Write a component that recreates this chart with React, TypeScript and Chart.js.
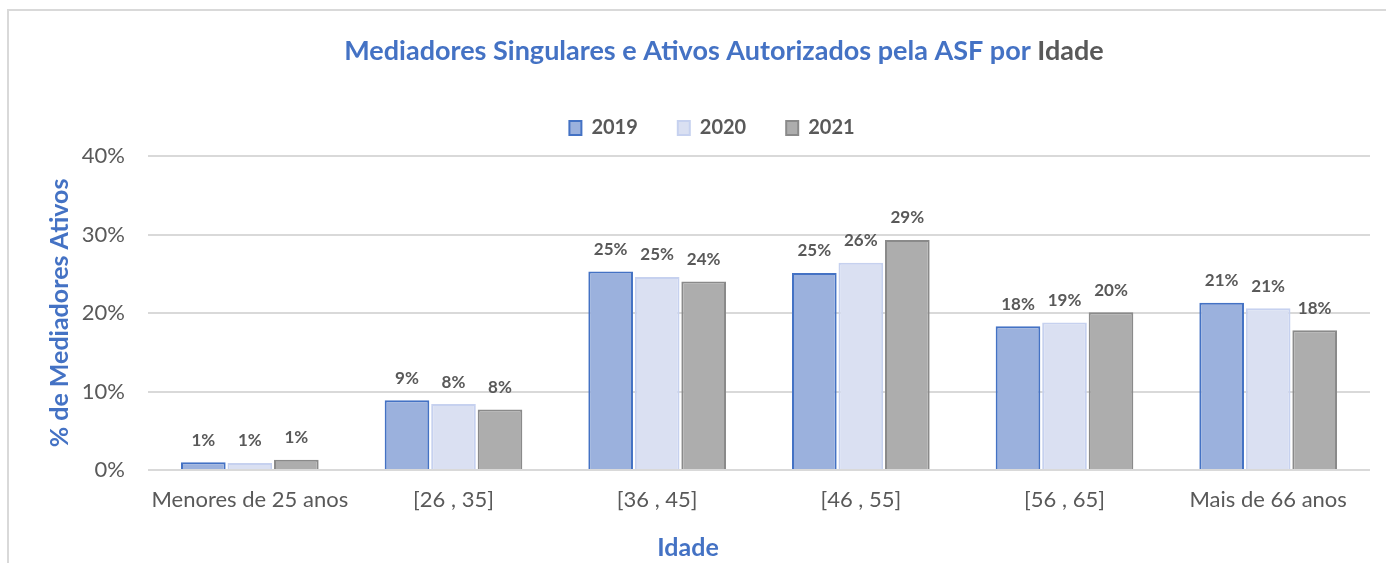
import React, { useEffect, useRef } from "react";
import { Chart, registerables } from "chart.js";

Chart.register(...registerables);

const categories = ["Menores de 25 anos", "[26 , 35]", "[36 , 45]", "[46 , 55]", "[56 , 65]", "Mais de 66 anos"];
const series2019 = [1.0, 8.9, 25.3, 25.1, 18.3, 21.3];
const series2020 = [0.9, 8.4, 24.6, 26.4, 18.8, 20.6];
const series2021 = [1.3, 7.7, 24.0, 29.3, 20.1, 17.8];
const yTicks = [0, 10, 20, 30, 40];

const FONT = "Lato, 'Noto Sans', sans-serif";
const GRAY = "#595959";
const BLUE = "#4472C4";

const titlePlugin = {
  id: "twoColorTitle",
  afterDraw(chart: any) {
    const ctx = chart.ctx;
    const a = "Mediadores Singulares e Ativos Autorizados pela ASF por ";
    const b = "Idade";
    ctx.save();
    ctx.font = `bold 27px ${FONT}`;
    ctx.textBaseline = "middle";
    ctx.textAlign = "left";
    const wa = ctx.measureText(a).width;
    const wb = ctx.measureText(b).width;
    const cx = 724;
    const x0 = cx - (wa + wb) / 2;
    ctx.fillStyle = BLUE;
    ctx.fillText(a, x0, 51);
    ctx.fillStyle = GRAY;
    ctx.fillText(b, x0 + wa, 51);
    // x axis title
    ctx.font = `bold 25px ${FONT}`;
    ctx.fillStyle = BLUE;
    ctx.textAlign = "center";
    ctx.fillText("Idade", 688, 548);
    ctx.restore();
  },
};

const legendGapPlugin = {
  id: "legendGap",
  beforeLayout(chart: any) {
    const lg = chart.legend;
    if (lg && !lg.__patched) {
      const orig = lg.fit;
      lg.fit = function (this: any) {
        orig.call(this);
        this.height += 8;
      };
      lg.__patched = true;
    }
  },
  afterLayout(chart: any) {
    const lg = chart.legend;
    if (lg) {
      lg.left += 27;
      lg.right += 27;
    }
  },
};

const labelsPlugin = {
  id: "barValueLabels",
  afterDatasetsDraw(chart: any) {
    const ctx = chart.ctx;
    ctx.save();
    ctx.font = `bold 17px ${FONT}`;
    ctx.fillStyle = GRAY;
    ctx.textAlign = "center";
    ctx.textBaseline = "middle";
    chart.data.datasets.forEach((ds: any, i: number) => {
      const meta = chart.getDatasetMeta(i);
      meta.data.forEach((el: any, j: number) => {
        const v = ds.data[j];
        ctx.fillText(Math.round(v) + "%", el.x, el.y - 22);
      });
    });
    ctx.restore();
  },
};

export default function App() {
  const ref = useRef<HTMLCanvasElement>(null);
  useEffect(() => {
    if (!ref.current) return;
    const chart = new Chart(ref.current, {
      type: "bar",
      data: {
        labels: categories,
        datasets: [
          { label: "2019", data: series2019, backgroundColor: "#9BB1DD", borderColor: "#4472C4", borderWidth: 2 },
          { label: "2020", data: series2020, backgroundColor: "#DAE0F2", borderColor: "#C6D1EF", borderWidth: 2 },
          { label: "2021", data: series2021, backgroundColor: "#ADADAD", borderColor: "#8A8A8A", borderWidth: 2 },
        ],
      },
      options: {
        responsive: false,
        animation: false,
        layout: { padding: { top: 78, right: 16, left: 0, bottom: 0 } },
        datasets: { bar: { categoryPercentage: 0.685, barPercentage: 0.96 } },
        plugins: {
          title: { display: false },
          tooltip: { enabled: false },
          legend: {
            display: true,
            position: "top",
            labels: {
              boxWidth: 12,
              boxHeight: 14,
              padding: 40,
              color: GRAY,
              font: { family: FONT, size: 20, weight: "bold" },
            },
          },
        },
        scales: {
          x: {
            afterFit(scale: any) { scale.height = 93; },
            grid: { display: false, drawTicks: false },
            border: { display: false },
            ticks: { color: GRAY, font: { family: FONT, size: 22 }, padding: 17, maxRotation: 0 },
            title: { display: false },
          },
          y: {
            min: 0,
            max: 40,
            afterFit(scale: any) { scale.width = 148; },
            afterBuildTicks(scale: any) { scale.ticks = yTicks.map((v) => ({ value: v })); },
            grid: { color: "#D9D9D9", lineWidth: 2, drawTicks: false },
            border: { display: false },
            ticks: { color: GRAY, font: { family: FONT, size: 22 }, padding: 23, callback: (v: any) => v + "%" },
            title: { display: true, text: "% de Mediadores Ativos", color: BLUE, font: { family: FONT, size: 25, weight: "bold" }, padding: { top: 45, bottom: 0 } },
          },
        },
      },
      plugins: [titlePlugin, legendGapPlugin, labelsPlugin],
    } as any);
    return () => chart.destroy();
  }, []);

  return (
    <div style={{ position: "absolute", left: 0, top: 0, width: 1386, height: 563, overflow: "hidden", background: "#fff" }}>
      <div style={{ position: "absolute", left: 7, top: 9, width: 1500, height: 700, borderLeft: "2px solid #D9D9D9", borderTop: "2px solid #D9D9D9", boxSizing: "border-box" }} />
      <canvas ref={ref} width={1386} height={563} style={{ position: "absolute", left: 0, top: 0, display: "block" }} />
    </div>
  );
}
